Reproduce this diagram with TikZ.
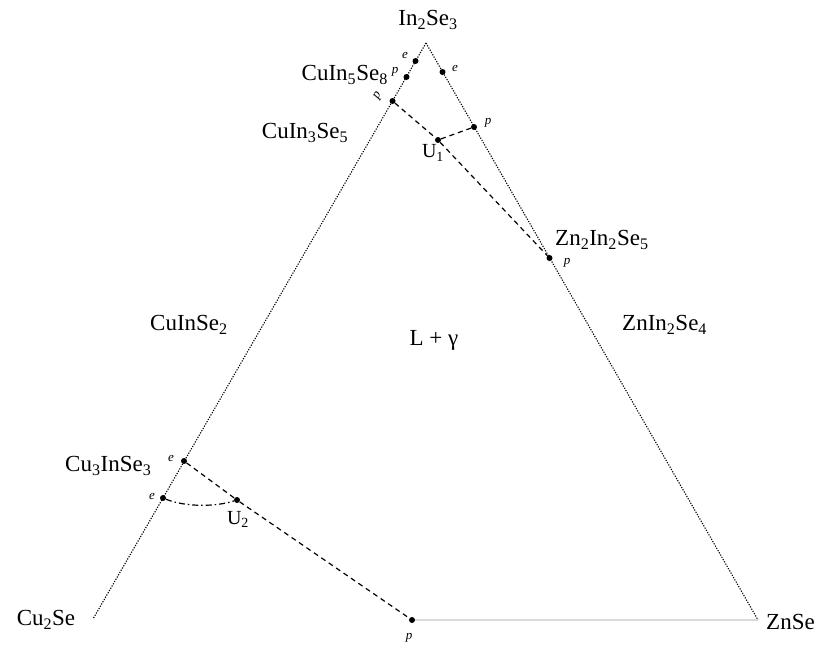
\documentclass[tikz,border=0pt]{standalone}
\usepackage{fontspec}
\setmainfont{Liberation Serif}
\tikzset{
 dotnode/.style={circle,fill=black,inner sep=0pt,minimum size=6pt},
 edgeline/.style={line width=1.1pt, dash pattern=on 1.2pt off 1.4pt},
 tieline/.style={line width=1.2pt, dash pattern=on 5pt off 4pt},
 dashdotline/.style={line width=1.2pt, dash pattern=on 6pt off 3pt on 1.5pt off 3pt},
 baseedge/.style={line width=1.3pt, black!15},
 lbl/.style={font=\fontsize{23}{26}\selectfont, inner sep=0pt},
 ulbl/.style={font=\fontsize{20}{24}\selectfont, inner sep=0pt},
 sm/.style={font=\itshape\fontsize{13}{15}\selectfont, inner sep=0pt},
}
\begin{document}
\begin{tikzpicture}[x=1pt,y=-1pt]
\useasboundingbox (0,0) rectangle (824,646);
\coordinate (T) at (426,43);
\coordinate (L) at (93,619);
\coordinate (R) at (758,620);
\node[dotnode] (e1) at (415.5,61) {};
\node[dotnode] (p1) at (406.5,77) {};
\node[dotnode] (p2) at (392.5,101) {};
\node[dotnode] (e2) at (442.5,72) {};
\node[dotnode] (p3) at (474,127) {};
\node[dotnode] (U1) at (438,140) {};
\node[dotnode] (p4) at (549.5,258) {};
\node[dotnode] (e3) at (184,461) {};
\node[dotnode] (e4) at (163,498) {};
\node[dotnode] (U2) at (237,500) {};
\node[dotnode] (p5) at (412,620) {};

\draw[edgeline] (T) -- (L);
\draw[edgeline] (T) -- (R);
\draw[baseedge] (p5) -- (R);
\draw[tieline] (p2) -- (U1) -- (p4);
\draw[tieline] (U1) -- (p3);
\draw[tieline] (e3) -- (U2) -- (p5);
\draw[dashdotline] (e4) .. controls (185,507) and (215,507) .. (U2);

\node[lbl] (tIn) at (428,20) {In\textsubscript{2}Se\textsubscript{3}};
\node[lbl,anchor=east] (tC58) at (388,75) {CuIn\textsubscript{5}Se\textsubscript{8}};
\node[lbl] (tC35) at (305,133) {CuIn\textsubscript{3}Se\textsubscript{5}};
\node[lbl,anchor=west] (tCIS) at (150,325) {CuInSe\textsubscript{2}};
\node[lbl,anchor=west] (tC3) at (65,466) {Cu\textsubscript{3}InSe\textsubscript{3}};
\node[lbl] (tCu) at (46,620) {Cu\textsubscript{2}Se};
\node[lbl,anchor=west] (tZn) at (766,622) {ZnSe};
\node[lbl,anchor=west] (tZ225) at (555,240) {Zn\textsubscript{2}In\textsubscript{2}Se\textsubscript{5}};
\node[lbl,anchor=west] (tZ124) at (622,325) {ZnIn\textsubscript{2}Se\textsubscript{4}};
\node[lbl] (tLg) at (434,340) {L + γ};
\node[ulbl] (tU1) at (433,153) {U\textsubscript{1}};
\node[ulbl] (tU2) at (238,519) {U\textsubscript{2}};

\node[sm] (le1) at (405,55) {e};
\node[sm] (lp1) at (395,72) {p};
\node[sm,rotate=60] (lp2) at (378,96) {p};
\node[sm] (le2) at (455,68) {e};
\node[sm] (lp3) at (488,123) {p};
\node[sm] (lp4) at (567,263) {p};
\node[sm] (le3) at (171,458) {e};
\node[sm] (le4) at (152,496) {e};
\node[sm] (lp5) at (409,638) {p};
\end{tikzpicture}
\end{document}
